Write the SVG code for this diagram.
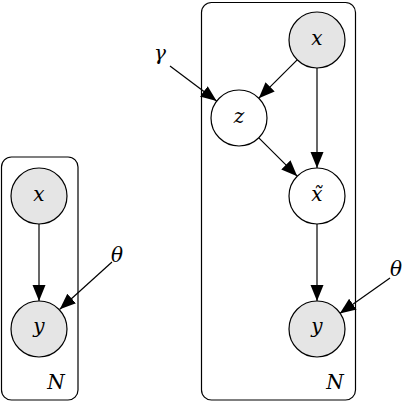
<svg xmlns="http://www.w3.org/2000/svg" width="404" height="402" viewBox="0 0 404 402">
<style>
.plate{fill:none;stroke:#000;stroke-width:1.2}
.obs{fill:#e5e5e5;stroke:#000;stroke-width:1.2}
.lat{fill:#fff;stroke:#000;stroke-width:1.2}
.edge{fill:none;stroke:#000;stroke-width:1.2;marker-end:url(#arr)}
</style>
<defs>
<marker id="arr" markerUnits="userSpaceOnUse" markerWidth="18" markerHeight="14" refX="16" refY="6.5" orient="auto">
<path d="M0,0 L16,6.5 L0,13 Z" fill="#000"/>
</marker>
</defs>
<rect width="404" height="402" fill="#fff"/>
<g font-family="DejaVu Serif, serif" font-style="italic" font-size="20" text-anchor="middle" fill="#000">
<g id="plate-left">
<rect class="plate" x="1.5" y="157" width="76.5" height="243" rx="10"/>
<text x="56" y="389">N</text>
</g>
<g id="plate-right">
<rect class="plate" x="201.5" y="2.5" width="154" height="397.5" rx="10"/>
<text x="335" y="389">N</text>
</g>
<g id="connectors">
<path class="edge" d="M39,224 L39,301"/>
<path class="edge" d="M112,262 L59.8,309.2"/>
<path class="edge" d="M297.2,59.8 L258.8,98.2"/>
<path class="edge" d="M317,68 L317,168"/>
<path class="edge" d="M258.8,137.8 L297.2,176.2"/>
<path class="edge" d="M317,224 L317,301"/>
<path class="edge" d="M170,66 L216.6,101"/>
<path class="edge" d="M390,278 L339.8,313.4"/>
</g>
<g id="node-x-left">
<circle class="obs" cx="39" cy="196" r="28"/>
<text x="39" y="201">x</text>
</g>
<g id="node-y-left">
<circle class="obs" cx="39" cy="329" r="28"/>
<text x="39" y="333">y</text>
</g>
<g id="theta-left">
<text x="117" y="262">θ</text>
</g>
<g id="node-x-right">
<circle class="obs" cx="317" cy="40" r="28"/>
<text x="317" y="45">x</text>
</g>
<g id="node-z">
<circle class="lat" cx="239" cy="118" r="28"/>
<text x="239" y="123">z</text>
</g>
<g id="node-xtilde">
<circle class="lat" cx="317" cy="196" r="28"/>
<text x="317" y="201">x̃</text>
</g>
<g id="node-y-right">
<circle class="obs" cx="317" cy="329" r="28"/>
<text x="317" y="333">y</text>
</g>
<g id="gamma">
<text x="160" y="60">γ</text>
</g>
<g id="theta-right">
<text x="396" y="276">θ</text>
</g>
</g>
</svg>
